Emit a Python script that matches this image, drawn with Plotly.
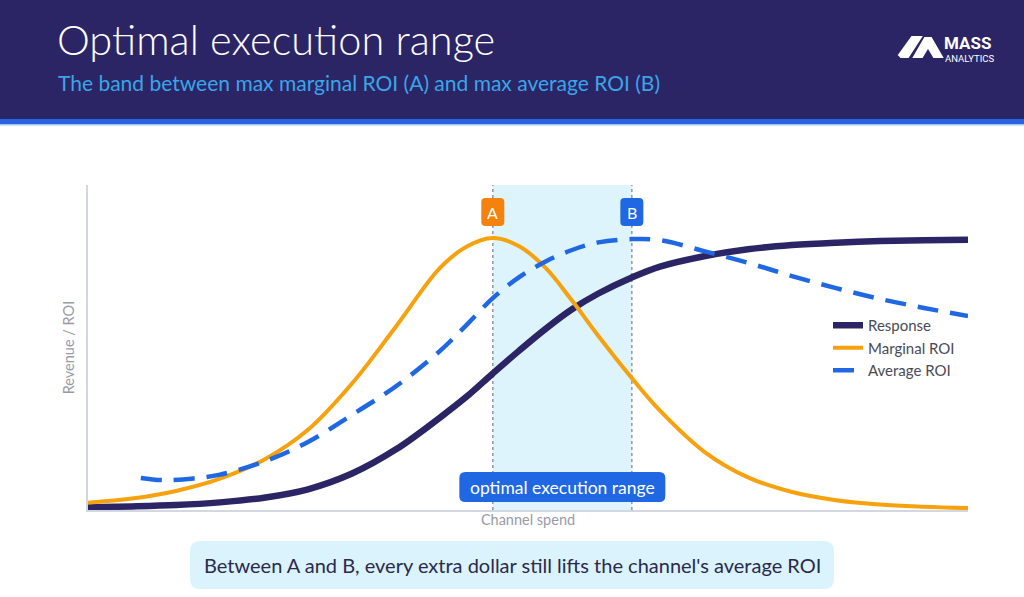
import plotly.graph_objects as go

# ---------------- data ----------------
spend = [0, 5, 10, 15, 20, 25, 30, 35, 40, 43, 46, 49, 52, 55, 58, 61.8, 65, 70, 75, 80, 85, 90, 95, 100]
response = [1.0, 1.3, 1.8, 2.8, 4.5, 7.6, 13.4, 22.3, 34.0, 41.6, 50.2, 58.6, 66.6, 73.8, 79.6, 85.5,
            89.5, 93.3, 95.9, 97.4, 98.3, 98.9, 99.2, 99.4]
marginal_roi = [2.7, 4.2, 7.0, 11.5, 18.5, 29.5, 46.5, 67.5, 89.0, 96.8, 100.0, 97.0, 89.0, 77.0, 64.0, 48.5,
                36.5, 21.5, 12.0, 6.6, 3.6, 2.0, 1.2, 0.7]
avg_spend = [6, 8.5, 12, 15, 20, 25, 30, 35, 40, 43, 46, 49, 52, 55, 58, 61.8, 65, 70, 75, 80, 85, 90, 95, 100]
avg_roi = [11.8, 11.0, 11.6, 13.0, 17.8, 25.0, 35.0, 45.5, 58.5, 68.0, 77.9, 85.6, 91.4, 95.6, 98.4, 99.6,
           99.2, 95.2, 90.9, 86.0, 81.6, 77.6, 74.3, 71.3]
series_names = ["Response", "Marginal ROI", "Average ROI"]
point_labels = ["A", "B"]
title_text = "Optimal execution range"
subtitle_text = "The band between max marginal ROI (A) and max average ROI (B)"
band_label = "optimal execution range"
caption_text = "Between A and B, every extra dollar still lifts the channel's average ROI"
x_title = "Channel spend"
y_title = "Revenue / ROI"

# A = max marginal ROI, B = max average ROI
A = spend[marginal_roi.index(max(marginal_roi))]
B = avg_spend[avg_roi.index(max(avg_roi))]

# ---------------- layout helpers ----------------
W, H = 1024, 597
PL, PR, PT, PB = 88, 968, 185, 510
XMIN, XMAX = 0, 100
YMIN, YMAX = 0, 119.5

NAVY = "#2b2566"
ORANGE = "#f6a10e"
ORANGE_BOX = "#f5820d"
BLUE = "#2068e3"
BAND = "#ddf4fc"
FONT = "Lato"


def X(px):
    return (px - PL) / (PR - PL)


def Y(py):
    return (PB - py) / (PB - PT)


def data_to_px(x):
    return PL + (x - XMIN) / (XMAX - XMIN) * (PR - PL)


def rrect(x0, y0, x1, y1, r):
    return (f"M {X(x0 + r)},{Y(y0)} L {X(x1 - r)},{Y(y0)} Q {X(x1)},{Y(y0)} {X(x1)},{Y(y0 + r)} "
            f"L {X(x1)},{Y(y1 - r)} Q {X(x1)},{Y(y1)} {X(x1 - r)},{Y(y1)} "
            f"L {X(x0 + r)},{Y(y1)} Q {X(x0)},{Y(y1)} {X(x0)},{Y(y1 - r)} "
            f"L {X(x0)},{Y(y0 + r)} Q {X(x0)},{Y(y0)} {X(x0 + r)},{Y(y0)} Z")


def poly(pts):
    return "M " + " L ".join(f"{X(a)},{Y(b)}" for a, b in pts) + " Z"


fig = go.Figure()
fig.add_trace(go.Scatter(x=spend, y=response, mode="lines", name=series_names[0],
                         line=dict(color=NAVY, width=6.5, shape="spline", smoothing=1.0)))
fig.add_trace(go.Scatter(x=spend, y=marginal_roi, mode="lines", name=series_names[1],
                         line=dict(color=ORANGE, width=4, shape="spline", smoothing=1.0)))
fig.add_trace(go.Scatter(x=avg_spend, y=avg_roi, mode="lines", name=series_names[2],
                         line=dict(color=BLUE, width=4.5, dash="21px,12px", shape="spline", smoothing=1.0)))

shapes = []
# header
shapes.append(dict(type="rect", xref="paper", yref="paper", x0=X(0), x1=X(W), y0=Y(119), y1=Y(0),
                   fillcolor=NAVY, line=dict(width=0), layer="below"))
shapes.append(dict(type="rect", xref="paper", yref="paper", x0=X(0), x1=X(W), y0=Y(124), y1=Y(119),
                   fillcolor="#2a63e0", line=dict(width=0), layer="below"))
shapes.append(dict(type="rect", xref="paper", yref="paper", x0=X(0), x1=X(W), y0=Y(125.5), y1=Y(124),
                   fillcolor="#9cc4f5", line=dict(width=0), layer="below"))
# logo
shapes.append(dict(type="path", xref="paper", yref="paper",
                   path=poly([(899, 55), (912, 37), (921, 37), (908, 57), (901, 57)]),
                   fillcolor="white", line=dict(color="white", width=2)))
shapes.append(dict(type="path", xref="paper", yref="paper",
                   path=poly([(914, 57), (925, 38), (931, 38), (942, 57), (934, 57), (928, 47), (922, 57)]),
                   fillcolor="white", line=dict(color="white", width=2)))
# band between A and B
shapes.append(dict(type="rect", xref="x", yref="paper", x0=A, x1=B, y0=0, y1=1,
                   fillcolor=BAND, line=dict(width=0), layer="below"))
for v in (A, B):
    shapes.append(dict(type="line", xref="x", yref="paper", x0=v, x1=v, y0=0, y1=1,
                       line=dict(color="#8f97a6", width=1.5, dash="dot"), layer="below"))
# A / B badges
ax_px, bx_px = data_to_px(A), data_to_px(B)
shapes.append(dict(type="path", xref="paper", yref="paper",
                   path=rrect(ax_px - 11.5, 198, ax_px + 11.5, 226, 4), fillcolor=ORANGE_BOX,
                   line=dict(width=0)))
shapes.append(dict(type="path", xref="paper", yref="paper",
                   path=rrect(bx_px - 11.5, 198, bx_px + 11.5, 226, 4), fillcolor=BLUE,
                   line=dict(width=0)))
# optimal execution range pill
mid_px = (ax_px + bx_px) / 2
shapes.append(dict(type="path", xref="paper", yref="paper",
                   path=rrect(mid_px - 103, 472, mid_px + 103, 502, 6), fillcolor=BLUE,
                   line=dict(width=0)))
# caption box
shapes.append(dict(type="path", xref="paper", yref="paper",
                   path=rrect(190, 541, 834, 589, 10), fillcolor="#daf3fc", line=dict(width=0)))

annotations = [
    dict(text=title_text, xref="paper", yref="paper", x=X(55), y=Y(39), xanchor="left", yanchor="middle",
         showarrow=False, font=dict(family=FONT, size=41.5, color="white", weight=300)),
    dict(text=subtitle_text, xref="paper", yref="paper", x=X(56), y=Y(83), xanchor="left", yanchor="middle",
         showarrow=False, font=dict(family=FONT, size=21, color="#3aa6e8")),
    dict(text="<b>MASS</b>", xref="paper", yref="paper", x=X(942), y=Y(43), xanchor="left", yanchor="middle",
         showarrow=False, font=dict(family="Roboto", size=17, color="white")),
    dict(text="ANALYTICS", xref="paper", yref="paper", x=X(943), y=Y(58), xanchor="left", yanchor="middle",
         showarrow=False, font=dict(family="Roboto", size=9.5, color="white")),
    dict(text=point_labels[0], xref="x", yref="paper", x=A, y=Y(212), xanchor="center", yanchor="middle",
         showarrow=False, font=dict(family=FONT, size=16, color="white")),
    dict(text=point_labels[1], xref="x", yref="paper", x=B, y=Y(212), xanchor="center", yanchor="middle",
         showarrow=False, font=dict(family=FONT, size=16, color="white")),
    dict(text=band_label, xref="x", yref="paper", x=(A + B) / 2, y=Y(487), xanchor="center",
         yanchor="middle", showarrow=False, font=dict(family=FONT, size=17.5, color="white")),
    dict(text=caption_text, xref="paper", yref="paper", x=X(512), y=Y(565), xanchor="center",
         yanchor="middle", showarrow=False, font=dict(family=FONT, size=20, color="#2b2a4d")),
]

fig.update_layout(
    width=W, height=H,
    margin=dict(l=PL, r=W - PR, t=PT, b=H - PB, autoexpand=False),
    paper_bgcolor="white", plot_bgcolor="white",
    shapes=shapes, annotations=annotations,
    showlegend=True,
    legend=dict(x=X(828), y=Y(309), xanchor="left", yanchor="top", bgcolor="rgba(0,0,0,0)",
                font=dict(family=FONT, size=15, color="#4a4a57"), tracegroupgap=0, itemwidth=30),
    font=dict(family=FONT),
)
fig.update_xaxes(range=[XMIN, XMAX], showgrid=False, zeroline=False, showticklabels=False, ticks="",
                 showline=True, linecolor="#d3d7df", linewidth=1.5,
                 title=dict(text=x_title, standoff=4, font=dict(family=FONT, size=14.5, color="#9a9aa6")))
fig.update_yaxes(range=[YMIN, YMAX], showgrid=False, zeroline=False, showticklabels=False, ticks="",
                 showline=True, linecolor="#d3d7df", linewidth=1.5,
                 title=dict(text=y_title, standoff=8, font=dict(family=FONT, size=14.5, color="#9a9aa6")))

fig.write_html("out.html", config={"displayModeBar": False},
               post_script="document.body.style.margin='0';")
